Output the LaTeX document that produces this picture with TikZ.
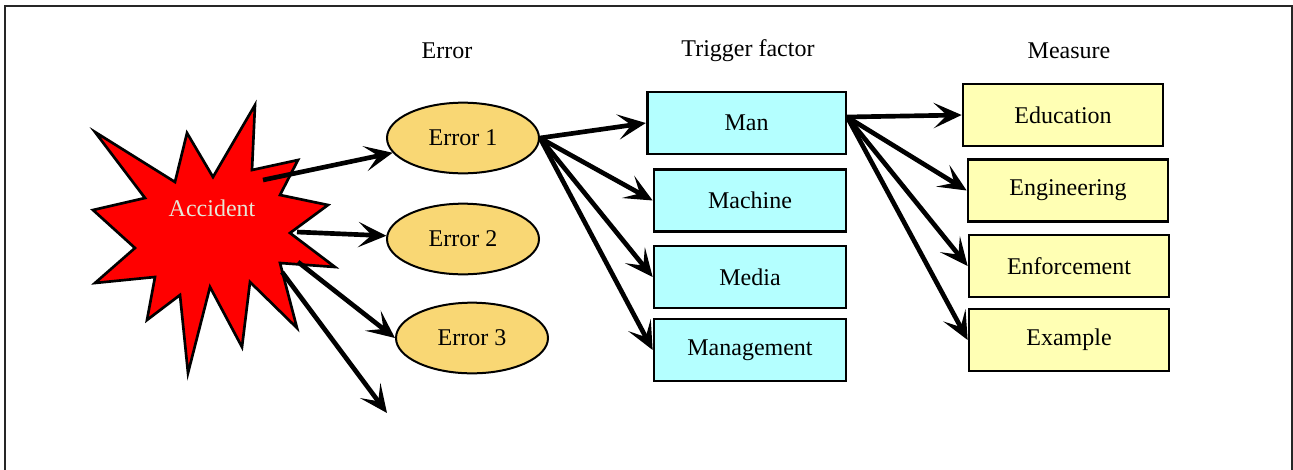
\documentclass[tikz,border=0pt]{standalone}
\usepackage{fontspec}
\setmainfont{Liberation Serif}
\usetikzlibrary{arrows.meta,shapes.geometric}
\definecolor{errfill}{RGB}{249,215,116}
\definecolor{trigfill}{RGB}{180,255,255}
\definecolor{measfill}{RGB}{255,255,180}
\definecolor{accfont}{RGB}{230,230,214}
\tikzset{
  errnode/.style={draw, ellipse, fill=errfill, line width=1.5pt, minimum width=114pt, minimum height=53pt, inner sep=0pt},
  trignode/.style={draw, rectangle, fill=trigfill, line width=2pt, minimum width=144pt, minimum height=46.5pt},
  measnode/.style={draw, rectangle, fill=measfill, line width=2pt, minimum width=150pt, minimum height=46.5pt},
  arr/.style={-{Stealth[length=21pt,width=19pt,inset=10pt]}, line width=3.5pt},
}
\begin{document}
\begin{tikzpicture}[x=0.75pt, y=-0.75pt, font=\fontsize{18}{22}\selectfont]
\useasboundingbox (0,0) rectangle (1293,469);
\draw[line width=1.5pt, black!85] (5,480) -- (5,6) -- (1292,6) -- (1292,480);

\node (herr) at (447,51) {Error};
\node (htrig) at (748,51) {Trigger factor};
\node (hmeas) at (1069,51) {Measure};

\draw[fill=red, line width=2pt, line join=miter, miter limit=20]
  (95,132) -- (175,182) -- (187,133) -- (213,177) -- (255,105) -- (252,170)
  -- (298,160) -- (280,195) -- (328,205) -- (290,233) -- (335,267) -- (280,263)
  -- (297,328) -- (250,282) -- (242,347) -- (210,287) -- (188,373) -- (180,295)
  -- (147,320) -- (155,277) -- (95,283) -- (135,248) -- (93,210) -- (145,198) -- cycle;
\node[text=accfont] (acc) at (212,208) {Accident};
\coordinate (s1) at (263,180);
\coordinate (s2) at (297,232);
\coordinate (s3) at (298,262);
\coordinate (s4) at (282,272);
\coordinate (loose) at (387,413);

\node[errnode] (err1) at (463,138) {Error 1};
\node[errnode] (err2) at (463,239) {Error 2};
\node[errnode] (err3) at (472,338) {Error 3};

\node[trignode, minimum width=149pt] (man) at (746.5,123) {Man};
\node[trignode] (machine) at (750,200.5) {Machine};
\node[trignode] (media) at (750,277) {Media};
\node[trignode] (mgmt) at (750,350) {Management};

\node[measnode] (edu) at (1063,115) {Education};
\node[measnode] (eng) at (1068,190.5) {Engineering};
\node[measnode] (enf) at (1069,266) {Enforcement};
\node[measnode] (exa) at (1069,340) {Example};

\draw[arr] (s1) -- (err1);
\draw[arr] (s2) -- (err2);
\draw[arr] (s3) -- (err3.west);
\draw[arr] (s4) -- (loose);

\draw[arr] (err1.east) -- (man.west);
\draw[arr] (err1.east) -- (machine.west);
\draw[arr] (err1.east) -- (media.west);
\draw[arr] (err1.east) -- (mgmt.west);

\draw[arr] ([yshift=4.5pt]man.east) -- (edu.west);
\draw[arr] ([yshift=4.5pt]man.east) -- (eng.west);
\draw[arr] ([yshift=4.5pt]man.east) -- (enf.west);
\draw[arr] ([yshift=4.5pt]man.east) -- (exa.west);
\end{tikzpicture}
\end{document}
